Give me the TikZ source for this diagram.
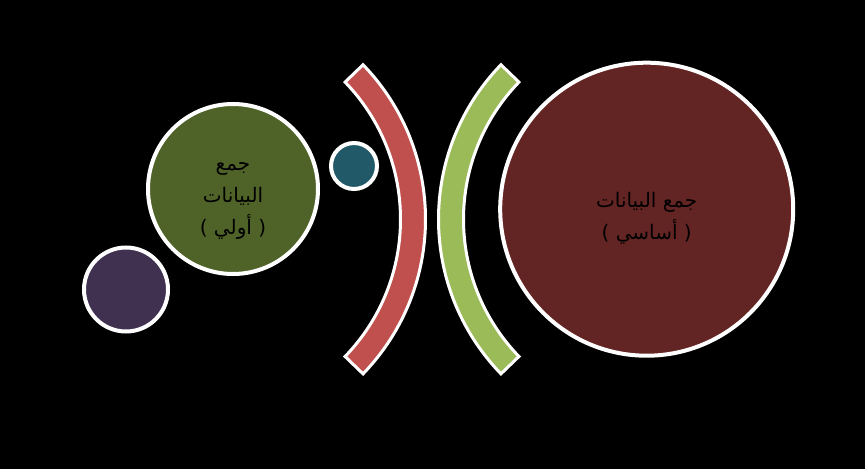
\documentclass[tikz,border=0pt]{standalone}
\usepackage{fontspec}
\newfontfamily\arabicfont[Script=Arabic]{DejaVu Sans}
\TeXXeTstate=1
\usetikzlibrary{positioning}
\definecolor{plum}{HTML}{403151}
\definecolor{olive}{HTML}{4F6228}
\definecolor{petrol}{HTML}{215968}
\definecolor{maroon}{HTML}{632523}
\definecolor{brick}{HTML}{C0504D}
\definecolor{lime}{HTML}{9BBB59}

\begin{document}
\begin{tikzpicture}[x=1pt,y=1pt,bubble/.style={shape=circle,draw=white,line width=4pt,inner sep=0pt},caption/.style={text=black,align=center,inner sep=0pt,font=\arabicfont\fontsize{20}{32}\selectfont},band/.style={draw=white,line width=3pt,line join=miter}]
\fill[black] (0,0) rectangle (865,469);
\useasboundingbox (0,0) rectangle (865,469);
\node[bubble, fill=plum, minimum size=84pt] (P) at (126,179.5) {};
\node[bubble, fill=olive, minimum size=170pt] (G) at (233,280) {};
\node[bubble, fill=petrol, minimum size=46pt] (T) at (354,303) {};
\node[bubble, fill=maroon, minimum size=293pt] (M) at (646.7,259.8) {};
\node[caption] (Gt) at ([yshift=-12pt]G.center) {\beginR جمع\endR\\\beginR البيانات\endR\\\beginR ( أولي )\endR};
\node[caption] (Mt) at ([yshift=-9pt]M.center) {\beginR جمع البيانات\endR\\\beginR ( أساسي )\endR};
% the two bands
\draw[band, fill=brick] (203,249.7) ++(-44:222.5) arc[start angle=-44, end angle=44, radius=222.5] -- ++(224:25) arc[start angle=44, end angle=-44, radius=197.5] -- cycle;
\draw[band, fill=lime] (661,249.7) ++(136:222.5) arc[start angle=136, end angle=224, radius=222.5] -- ++(44:25) arc[start angle=224, end angle=136, radius=197.5] -- cycle;
\end{tikzpicture}
\end{document}
